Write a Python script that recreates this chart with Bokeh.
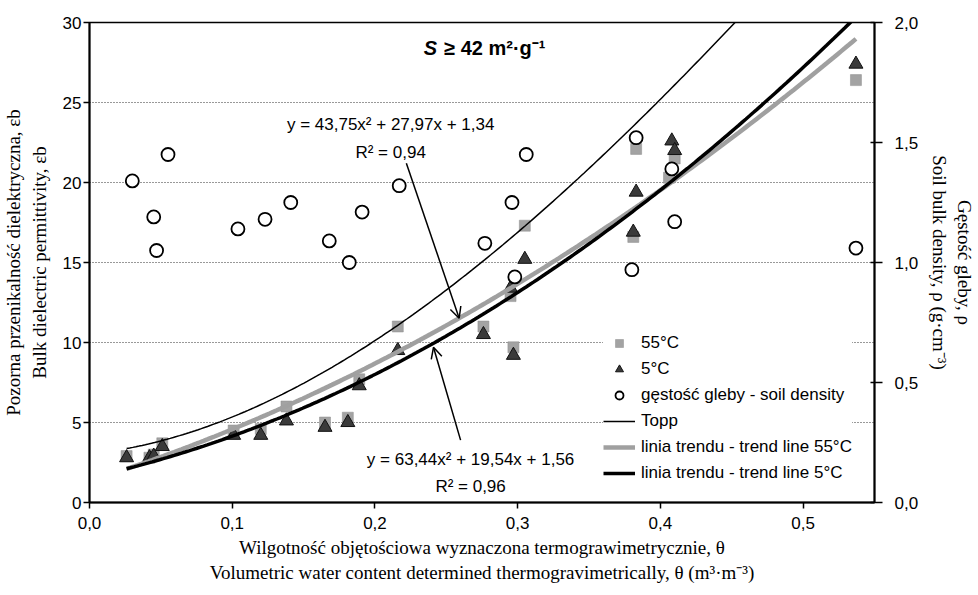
import numpy as np
from bokeh.plotting import figure
from bokeh.models import (Range1d, LinearAxis, FixedTicker, CustomJSTickFormatter,
                          Legend, LegendItem, Label, Arrow, OpenHead)
from bokeh.embed import file_html
from bokeh.resources import INLINE

# Measured samples: volumetric water content (theta) vs bulk permittivity
theta_55 = [0.026, 0.042, 0.045, 0.051, 0.101, 0.120, 0.138, 0.165, 0.181, 0.189,
            0.216, 0.276, 0.295, 0.297, 0.305, 0.381, 0.383, 0.406, 0.410, 0.537]
eps_55 = [2.9, 2.8, 3.0, 3.7, 4.5, 4.6, 6.0, 5.0, 5.3, 7.7,
          11.0, 11.0, 12.9, 9.7, 17.3, 16.6, 22.1, 20.3, 21.5, 26.4]

theta_5 = [0.026, 0.042, 0.045, 0.051, 0.101, 0.120, 0.138, 0.165, 0.181, 0.189,
           0.216, 0.276, 0.295, 0.297, 0.305, 0.381, 0.383, 0.408, 0.410, 0.537]
eps_5 = [2.8, 2.8, 2.9, 3.5, 4.2, 4.2, 5.1, 4.7, 5.0, 7.3,
         9.5, 10.5, 13.4, 9.2, 15.2, 16.9, 19.4, 22.6, 22.0, 27.4]

# Soil bulk density (right axis)
theta_rho = [0.030, 0.045, 0.047, 0.055, 0.104, 0.123, 0.141, 0.168, 0.182, 0.191,
             0.217, 0.277, 0.296, 0.298, 0.306, 0.383, 0.380, 0.408, 0.410, 0.537]
rho = [1.34, 1.19, 1.05, 1.45, 1.14, 1.18, 1.25, 1.09, 1.00, 1.21,
       1.32, 1.08, 1.25, 0.94, 1.45, 1.52, 0.97, 1.39, 1.17, 1.06]

# Quadratic trend lines (a*x^2 + b*x + c) and the Topp cubic
trend_55 = [43.75, 27.97, 1.34]
trend_5 = [63.44, 19.54, 1.56]
topp = [3.03, 9.3, 146.0, -76.7]
theta_lo, theta_hi = 0.026, 0.537

x_ticks = [0.0, 0.1, 0.2, 0.3, 0.4, 0.5]
y_ticks = [0, 5, 10, 15, 20, 25, 30]
rho_ticks = [0.0, 0.5, 1.0, 1.5, 2.0]

SANS = "Liberation Sans"
SERIF = "Liberation Serif"

p = figure(width=978, height=595, x_range=Range1d(0, 0.55), y_range=Range1d(0, 30),
           output_backend="svg", toolbar_location=None,
           min_border_left=88, min_border_right=99, min_border_top=22, min_border_bottom=93)
p.extra_y_ranges = {"rho": Range1d(0, 2)}
p.background_fill_color = "white"
p.border_fill_color = "white"
p.outline_line_color = "black"
p.outline_line_width = 1.5

p.xgrid.visible = False
p.ygrid.ticker = FixedTicker(ticks=y_ticks)
p.ygrid.grid_line_color = "#333333"
p.ygrid.grid_line_dash = "1 2"
p.ygrid.grid_line_width = 1

# Bottom axis
xa = p.xaxis[0]
xa.ticker = FixedTicker(ticks=x_ticks)
xa.formatter = CustomJSTickFormatter(code="return tick.toFixed(1).replace('.', ',');")
xa.axis_label = ("Wilgotność objętościowa wyznaczona termograwimetrycznie, θ\n"
                 "Volumetric water content determined thermogravimetrically, θ (m³·m⁻³)")

# Left axis
ya = p.yaxis[0]
ya.ticker = FixedTicker(ticks=y_ticks)
ya.formatter = CustomJSTickFormatter(code="return tick.toFixed(0);")
ya.axis_label = ("Pozorna przenikalność dielektryczna, εb\n"
                 "Bulk dielectric permittivity, εb")

# Right axis for density
ra = LinearAxis(y_range_name="rho", ticker=FixedTicker(ticks=rho_ticks),
                formatter=CustomJSTickFormatter(code="return tick.toFixed(1).replace('.', ',');"),
                axis_label="Gęstość gleby, ρ\nSoil bulk density, ρ (g·cm⁻³)")
p.add_layout(ra, "right")

for ax in (xa, ya, ra):
    ax.axis_line_color = "black"
    ax.axis_line_width = 2
    ax.major_tick_line_color = "black"
    ax.major_tick_line_width = 1.5
    ax.minor_tick_line_color = None
    ax.major_tick_in = 0
    ax.major_tick_out = 6
    ax.major_label_text_font = SANS
    ax.major_label_text_font_size = "17px"
    ax.major_label_text_color = "black"
    ax.axis_label_text_font = SERIF
    ax.axis_label_text_font_size = "19px"
    ax.axis_label_text_font_style = "normal"
    ax.axis_label_text_color = "black"

xa.major_label_standoff = 8
xa.axis_label_standoff = 5
ya.major_label_standoff = 2
ya.axis_label_standoff = 10
ra.major_tick_in = 4
ra.major_tick_out = 8
ra.major_label_standoff = 12
ra.axis_label_standoff = 8

# Curves
xs_fit = np.linspace(theta_lo, theta_hi, 200)
y55 = trend_55[0] * xs_fit**2 + trend_55[1] * xs_fit + trend_55[2]
y5 = trend_5[0] * xs_fit**2 + trend_5[1] * xs_fit + trend_5[2]
xs_topp = np.linspace(theta_lo, 0.46, 200)
ytopp = topp[0] + topp[1] * xs_topp + topp[2] * xs_topp**2 + topp[3] * xs_topp**3

r_sq = p.scatter(theta_55, eps_55, marker="square", size=11,
                 fill_color="#a3a3a3", line_color="#8c8c8c", line_width=0.5)
r_tri = p.scatter(theta_5, eps_5, marker="triangle", size=14,
                  fill_color="#3a3a3a", line_color="#111111", line_width=1)
r_t55 = p.line(xs_fit, y55, line_color="#a0a0a0", line_width=4.5)
r_t5 = p.line(xs_fit, y5, line_color="black", line_width=3.5)
r_topp = p.line(xs_topp, ytopp, line_color="black", line_width=1.5)
r_rho = p.scatter(theta_rho, rho, marker="circle", size=13, y_range_name="rho",
                  fill_color="white", line_color="black", line_width=1.8)

# Equation annotations with arrows
def add_text(x, y, txt, size="17px", style="normal", align="center", x_off=0):
    p.add_layout(Label(x=x, y=y, text=txt, text_font=SANS, text_font_size=size,
                       text_font_style=style, text_align=align, text_baseline="middle",
                       text_color="black", x_offset=x_off))

add_text(0.211, 23.6, "y = 43,75x² + 27,97x + 1,34")
add_text(0.211, 21.9, "R² = 0,94")
add_text(0.267, 2.7, "y = 63,44x² + 19,54x + 1,56")
add_text(0.267, 1.0, "R² = 0,96")

ax1 = 0.259
p.add_layout(Arrow(end=OpenHead(size=11, line_width=1.5, line_color="black"),
                   x_start=0.222, y_start=21.2, x_end=ax1,
                   y_end=trend_55[0] * ax1**2 + trend_55[1] * ax1 + trend_55[2],
                   line_width=1.5, line_color="black"))
p.add_layout(Arrow(end=OpenHead(size=11, line_width=1.5, line_color="black"),
                   x_start=0.260, y_start=3.9, x_end=0.241, y_end=9.7,
                   line_width=1.5, line_color="black"))

# Heading inside the plot
add_text(0.245, 28.4, "S", size="20px", style="bold italic", align="right", x_off=-2)
add_text(0.245, 28.4, "≥ 42 m²·g⁻¹", size="20px", style="bold", align="left", x_off=5)

legend = Legend(items=[
    LegendItem(label="55°C", renderers=[r_sq]),
    LegendItem(label="5°C", renderers=[r_tri]),
    LegendItem(label="gęstość gleby - soil density", renderers=[r_rho]),
    LegendItem(label="Topp", renderers=[r_topp]),
    LegendItem(label="linia trendu - trend line 55°C", renderers=[r_t55]),
    LegendItem(label="linia trendu - trend line 5°C", renderers=[r_t5]),
], location=(514, 19))
legend.margin = 0
legend.padding = 8
legend.spacing = 6
legend.glyph_width = 32
legend.glyph_height = 20
legend.label_height = 20
legend.label_standoff = 6
legend.label_text_font = SANS
legend.label_text_font_size = "17px"
legend.label_text_color = "black"
legend.background_fill_color = "white"
legend.background_fill_alpha = 1
legend.border_line_color = None
p.add_layout(legend, "center")

open("out.html", "w").write(file_html(p, INLINE))
